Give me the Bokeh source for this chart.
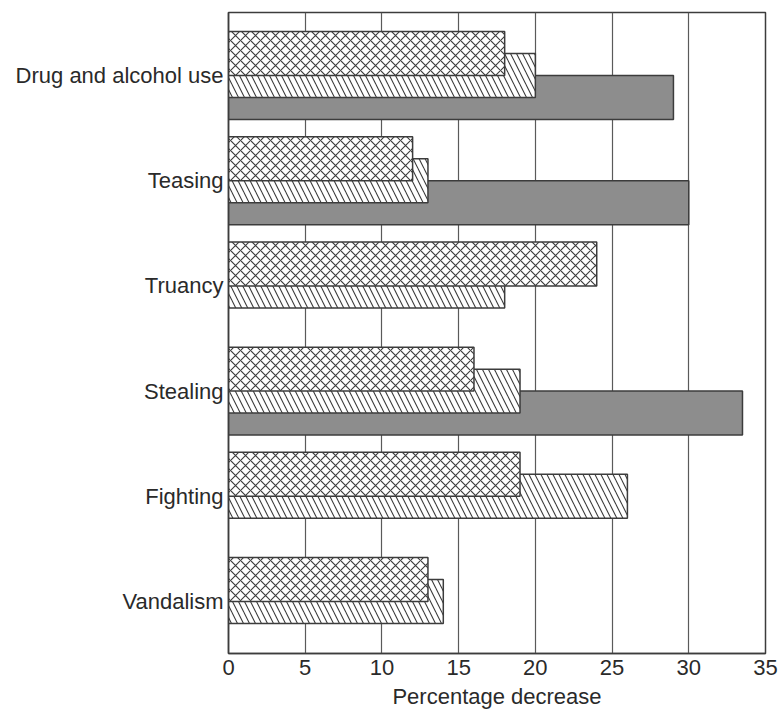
from bokeh.plotting import figure
from bokeh.models import FixedTicker
from bokeh.embed import file_html
from bokeh.resources import INLINE

# ---- data (top to bottom) ----
categories = ["Drug and alcohol use", "Teasing", "Truancy", "Stealing", "Fighting", "Vandalism"]
cross_values = [18, 12, 24, 16, 19, 13]      # cross-hatched bars
diag_values = [20, 13, 18, 19, 26, 14]       # diagonal-hatched bars
solid_values = [29, 30, None, 33.5, None, None]  # solid grey bars
x_ticks = [0, 5, 10, 15, 20, 25, 30, 35]
x_title = "Percentage decrease"

n = len(categories)
ypos = [n - 1 - i for i in range(n)]
bar_h = 0.418
off = 0.209

FONT = "Liberation Sans"
TXT = "#2a2a2a"
EDGE = "#3c3c3c"

p = figure(width=778, height=712, x_range=(0, 35), y_range=(-0.494, 5.599),
           output_backend="svg", toolbar_location=None,
           min_border_left=228, min_border_right=13, min_border_top=12, min_border_bottom=59)
p.background_fill_color = "white"
p.border_fill_color = "white"
p.outline_line_color = EDGE
p.outline_line_width = 1.5

# solid bars (drawn first, lowest)
sy, sv = [], []
for y, v in zip(ypos, solid_values):
    if v is not None:
        sy.append(y - off)
        sv.append(v)
p.hbar(y=sy, right=sv, left=0, height=bar_h, fill_color="#8d8d8d",
       line_color=EDGE, line_width=1.5)

# diagonal hatched
p.hbar(y=ypos, right=diag_values, left=0, height=bar_h, fill_color="white",
       hatch_pattern="left_diagonal_line", hatch_scale=12, hatch_color=EDGE,
       hatch_weight=1.1, line_color=EDGE, line_width=1.5)

# cross hatched
p.hbar(y=[y + off for y in ypos], right=cross_values, left=0, height=bar_h,
       fill_color="white", hatch_pattern="diagonal_cross", hatch_scale=10,
       hatch_color=EDGE, hatch_weight=1.1, line_color=EDGE, line_width=1.5)

# grids
p.xaxis.ticker = FixedTicker(ticks=x_ticks)
p.xgrid.ticker = FixedTicker(ticks=x_ticks)
p.xgrid.grid_line_color = "#5a5a5a"
p.xgrid.grid_line_width = 1.2
p.ygrid.grid_line_color = None

# x axis
p.xaxis.axis_label = x_title
p.xaxis.axis_label_text_font = FONT
p.xaxis.axis_label_text_font_size = "22px"
p.xaxis.axis_label_text_font_style = "normal"
p.xaxis.axis_label_text_color = TXT
p.xaxis.axis_label_standoff = 6
p.xaxis.major_label_text_font = FONT
p.xaxis.major_label_text_font_size = "22px"
p.xaxis.major_label_text_color = TXT
p.xaxis.major_label_standoff = 6
p.xaxis.major_tick_out = 0
p.xaxis.major_tick_in = 0
p.xaxis.minor_tick_out = 0
p.xaxis.minor_tick_in = 0
p.xaxis.axis_line_color = EDGE
p.xaxis.axis_line_width = 1.5

# y axis with category names
p.yaxis.ticker = FixedTicker(ticks=ypos)
p.yaxis.major_label_overrides = {y: name for y, name in zip(ypos, categories)}
p.yaxis.major_label_text_font = FONT
p.yaxis.major_label_text_font_size = "22px"
p.yaxis.major_label_text_color = TXT
p.yaxis.major_label_standoff = 5
p.yaxis.major_tick_out = 0
p.yaxis.major_tick_in = 0
p.yaxis.minor_tick_out = 0
p.yaxis.minor_tick_in = 0
p.yaxis.axis_line_color = EDGE
p.yaxis.axis_line_width = 1.5

open("out.html", "w").write(file_html(p, INLINE))
